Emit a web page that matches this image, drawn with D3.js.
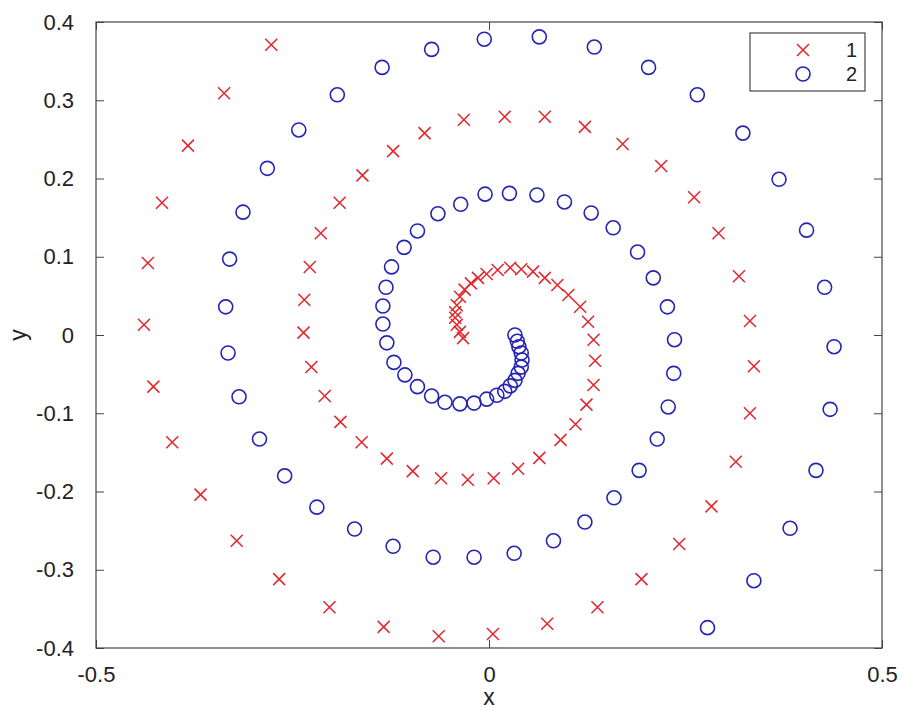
<!DOCTYPE html>
<html>
<head>
<meta charset="utf-8">
<script src="https://cdn.jsdelivr.net/npm/d3@7"></script>
<style>
  body { margin: 0; background: #fff; }
  svg { display: block; }
  text { font-family: "Liberation Sans", Arial, Helvetica, sans-serif; fill: #222; }
</style>
</head>
<body>
<svg id="chart" width="908" height="711"></svg>
<script>
// series 1 (red x), from the centre outwards
var redX = [-0.033, -0.037, -0.041, -0.043, -0.043, -0.041, -0.037, -0.031, -0.023, -0.014, -0.003, 0.011, 0.027,
  0.041, 0.056, 0.071, 0.087, 0.101, 0.116, 0.126, 0.133, 0.135, 0.133, 0.124, 0.110, 0.091, 0.064, 0.037, 0.006,
  -0.027, -0.061, -0.097, -0.130, -0.162, -0.189, -0.209, -0.226, -0.236, -0.235, -0.228, -0.214, -0.190, -0.161,
  -0.122, -0.082, -0.032, 0.020, 0.071, 0.122, 0.170, 0.219, 0.261, 0.292, 0.318, 0.332, 0.337, 0.332, 0.314,
  0.283, 0.242, 0.194, 0.138, 0.074, 0.005, -0.064, -0.134, -0.203, -0.267, -0.321, -0.367, -0.403, -0.427,
  -0.439, -0.434, -0.416, -0.383, -0.337, -0.277]
var redY = [-0.004, 0.004, 0.013, 0.022, 0.029, 0.038, 0.049, 0.058, 0.066, 0.073, 0.078, 0.083, 0.086,
  0.084, 0.081, 0.073, 0.064, 0.051, 0.036, 0.017, -0.006, -0.033, -0.064, -0.089, -0.114, -0.134, -0.157, -0.171, -0.183,
  -0.185, -0.183, -0.174, -0.158, -0.137, -0.111, -0.078, -0.041, 0.003, 0.045, 0.087, 0.130, 0.169, 0.204,
  0.235, 0.258, 0.275, 0.279, 0.279, 0.266, 0.244, 0.216, 0.176, 0.130, 0.075, 0.018, -0.040, -0.100, -0.162,
  -0.219, -0.267, -0.312, -0.348, -0.369, -0.382, -0.385, -0.373, -0.348, -0.312, -0.263, -0.204, -0.137, -0.066,
  0.013, 0.092, 0.169, 0.242, 0.309, 0.371]

// series 2 (blue o), from the centre outwards
var blueX = [0.033, 0.036, 0.038, 0.041, 0.042, 0.041, 0.037, 0.033, 0.027, 0.020, 0.010, -0.003, -0.019,
  -0.037, -0.056, -0.073, -0.091, -0.107, -0.121, -0.130, -0.135, -0.135, -0.131, -0.124, -0.108, -0.091, -0.065, -0.036, -0.005,
  0.026, 0.061, 0.096, 0.130, 0.158, 0.189, 0.209, 0.227, 0.236, 0.235, 0.228, 0.214, 0.191, 0.159,
  0.122, 0.082, 0.032, -0.019, -0.071, -0.122, -0.171, -0.219, -0.260, -0.292, -0.318, -0.332, -0.335, -0.330, -0.313,
  -0.282, -0.242, -0.193, -0.136, -0.073, -0.006, 0.064, 0.134, 0.203, 0.265, 0.323, 0.369, 0.404, 0.427,
  0.439, 0.434, 0.416, 0.383, 0.337, 0.278]
var blueY = [0.000, -0.008, -0.015, -0.023, -0.032, -0.041, -0.049, -0.058, -0.065, -0.072, -0.077, -0.082, -0.087,
  -0.088, -0.086, -0.078, -0.066, -0.051, -0.035, -0.010, 0.014, 0.037, 0.061, 0.087, 0.112, 0.133, 0.155, 0.167, 0.180,
  0.181, 0.179, 0.170, 0.156, 0.137, 0.106, 0.073, 0.036, -0.006, -0.049, -0.092, -0.133, -0.173, -0.208,
  -0.239, -0.263, -0.279, -0.284, -0.284, -0.270, -0.248, -0.220, -0.180, -0.133, -0.079, -0.023, 0.036, 0.097, 0.157,
  0.213, 0.262, 0.307, 0.342, 0.365, 0.378, 0.381, 0.368, 0.342, 0.307, 0.258, 0.199, 0.134, 0.061,
  -0.015, -0.095, -0.173, -0.247, -0.314, -0.374]

var xTicks = [-0.5, 0, 0.5]
var yTicks = [-0.4, -0.3, -0.2, -0.1, 0, 0.1, 0.2, 0.3, 0.4]
var legendNames = ['1', '2']

var svg = d3.select("#chart")
var plotLeft = 96, plotRight = 882, plotTop = 22, plotBottom = 648
var RED = '#e3262b', BLUE = '#2424b4'

var x = d3.scaleLinear().domain([-0.5, 0.5]).range([plotLeft, plotRight])
var y = d3.scaleLinear().domain([-0.4, 0.4]).range([plotBottom, plotTop])

// plain hyphen for negatives, like the original
var fmt = function (d) { return d === 0 ? '0' : (d < 0 ? '-' : '') + Math.abs(d).toFixed(1) }

// axes, ticks pointing inwards on all four sides
svg.append("g").attr("transform", "translate(0," + plotBottom + ")")
  .call(d3.axisBottom(x).tickValues(xTicks).tickFormat(fmt).tickSizeInner(-8).tickSizeOuter(0).tickPadding(18))
svg.append("g").attr("transform", "translate(0," + plotTop + ")")
  .call(d3.axisTop(x).tickValues(xTicks).tickFormat('').tickSizeInner(-8).tickSizeOuter(0))
svg.append("g").attr("transform", "translate(" + plotLeft + ",0)")
  .call(d3.axisLeft(y).tickValues(yTicks).tickFormat(fmt).tickSizeInner(-8).tickSizeOuter(0).tickPadding(22))
svg.append("g").attr("transform", "translate(" + plotRight + ",0)")
  .call(d3.axisRight(y).tickValues(yTicks).tickFormat('').tickSizeInner(-8).tickSizeOuter(0))

svg.selectAll(".domain").remove()
svg.selectAll(".tick line").attr("stroke", "#444").attr("stroke-width", 1)
svg.selectAll(".tick text").attr("font-size", "22px").attr("fill", "#222")
  .style("font-family", '"Liberation Sans", Arial, sans-serif')

svg.append("rect")
  .attr("x", plotLeft).attr("y", plotTop)
  .attr("width", plotRight - plotLeft).attr("height", plotBottom - plotTop)
  .attr("fill", "none").attr("stroke", "#444").attr("stroke-width", 1.2)

svg.append("text").attr("x", x(0)).attr("y", 705)
  .attr("text-anchor", "middle").attr("font-size", "23px").text("x")
svg.append("text").attr("transform", "translate(26," + y(0) + ") rotate(-90)")
  .attr("text-anchor", "middle").attr("font-size", "23px").text("y")

function cross(g, size) {
  g.append("path")
    .attr("d", "M" + (-size) + "," + (-size) + "L" + size + "," + size + "M" + (-size) + "," + size + "L" + size + "," + (-size))
    .attr("stroke", RED).attr("stroke-width", 1.5).attr("fill", "none")
}

var redData = redX.map(function (d, i) { return [d, redY[i]] })
var blueData = blueX.map(function (d, i) { return [d, blueY[i]] })

svg.selectAll(".red")
  .data(redData)
  .join("g")
  .attr("class", "red")
  .attr("transform", function (d) { return "translate(" + x(d[0]) + "," + y(d[1]) + ")" })
  .each(function () { cross(d3.select(this), 6) })

svg.selectAll(".blue")
  .data(blueData)
  .join("circle")
  .attr("class", "blue")
  .attr("cx", function (d) { return x(d[0]) })
  .attr("cy", function (d) { return y(d[1]) })
  .attr("r", 7)
  .attr("fill", "none")
  .attr("stroke", BLUE)
  .attr("stroke-width", 1.6)

// legend
var lg = svg.append("g").attr("transform", "translate(750,33)")
lg.append("rect").attr("width", 115).attr("height", 58)
  .attr("fill", "#fff").attr("stroke", "#444").attr("stroke-width", 1.2)
var item = lg.selectAll(".item")
  .data(legendNames)
  .join("g")
  .attr("class", "item")
  .attr("transform", function (d, i) { return "translate(0," + (17 + 24 * i) + ")" })
item.append("text").attr("x", 107).attr("y", 7).attr("text-anchor", "end")
  .attr("font-size", "20px").text(function (d) { return d })
cross(d3.select(item.nodes()[0]).append("g").attr("transform", "translate(53,0)"), 6)
d3.select(item.nodes()[1]).append("circle").attr("cx", 53).attr("r", 7)
  .attr("fill", "none").attr("stroke", BLUE).attr("stroke-width", 1.6)
</script>
</body>
</html>
